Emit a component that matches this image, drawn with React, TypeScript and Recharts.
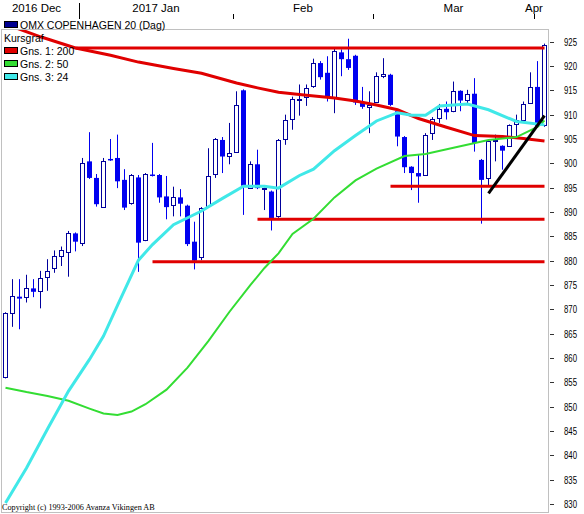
import React from 'react';
import { ComposedChart, Bar, Line, XAxis, YAxis, ReferenceLine } from 'recharts';

// ---- categories (trading days) ----
const decDays = [15, 16, 19, 20, 21, 22, 23, 27, 28, 29, 30];
const janDays = [2, 3, 4, 5, 6, 9, 10, 11, 12, 13, 16, 17, 18, 19, 20, 23, 24, 25, 26, 27, 30, 31];
const febDays = [1, 2, 3, 6, 7, 8, 9, 10, 13, 14, 15, 16, 17, 20, 21, 22, 23, 24, 27, 28];
const marDays = [1, 2, 3, 6, 7, 8, 9, 10, 13, 14, 15, 16, 17, 20, 21, 22, 23, 24, 27, 28, 29, 30, 31];
const aprDays = [3, 4];
const monthKeys = ['2016-12', '2017-01', '2017-02', '2017-03', '2017-04'];
const monthLabels = ['2016 Dec', '2017 Jan', 'Feb', 'Mar', 'Apr'];
const monthDays = [decDays, janDays, febDays, marDays, aprDays];

// ---- OHLC ----
const openV = [
  856.1, 869.3, 872.6, 872.5, 874.3, 873.8, 876.6, 878.4, 881.0, 881.7, 885.6,
  883.7, 900.4, 897.0, 891.1, 900.9, 901.1, 896.6, 891.8, 897.1, 884.3, 897.7,
  897.6, 893.2, 891.5, 893.0, 891.3, 883.9, 880.8, 891.3, 897.8, 904.8, 901.6,
  902.4, 915.0, 895.0, 899.8, 894.7, 894.2, 889.1, 905.0, 909.1, 913.0, 913.7,
  915.8, 920.6, 918.6, 913.7, 922.8, 921.4, 922.1, 912.4, 911.5,
  912.7, 918.0, 918.2, 910.7, 905.4, 899.3, 898.0, 897.6, 906.2, 909.3, 911.2,
  910.7, 914.9, 913.1, 914.3, 900.7, 897.0, 904.5, 903.6, 903.6, 908.0, 909.0,
  912.4, 915.7, 907.9,
];
const highV = [
  869.4, 876.2, 876.2, 877.1, 876.2, 877.9, 880.3, 882.1, 882.9, 886.1, 885.8,
  901.1, 906.4, 897.8, 901.1, 905.0, 905.9, 898.8, 897.8, 897.6, 898.0, 904.2,
  897.8, 897.4, 895.2, 894.7, 891.5, 888.0, 891.0, 903.1, 905.2, 905.4, 908.3,
  914.8, 915.2, 900.4, 902.8, 895.0, 894.4, 905.0, 910.0, 913.7, 916.2, 916.2,
  921.5, 921.0, 922.0, 923.7, 923.4, 925.6, 922.3, 915.7, 914.8,
  918.7, 921.6, 918.4, 910.9, 905.6, 899.4, 901.7, 906.2, 909.5, 912.2, 912.7,
  916.8, 915.0, 915.1, 917.5, 900.9, 904.6, 905.9, 903.7, 908.0, 910.0, 912.7,
  918.7, 921.0, 924.6,
];
const lowV = [
  855.8, 866.4, 865.9, 871.4, 872.5, 870.2, 873.8, 877.5, 878.9, 876.7, 881.9,
  883.0, 896.8, 891.1, 891.1, 900.5, 894.9, 890.4, 891.5, 877.7, 884.0, 897.3,
  891.9, 888.5, 889.1, 889.1, 883.0, 878.2, 880.1, 891.1, 897.0, 898.0, 899.8,
  902.2, 889.4, 894.8, 894.7, 890.4, 886.2, 888.8, 903.8, 906.9, 909.8, 911.8,
  915.5, 917.2, 912.7, 910.3, 917.9, 919.2, 912.0, 911.2, 906.2,
  912.5, 917.5, 911.8, 903.5, 898.0, 894.5, 891.9, 897.4, 904.8, 908.3, 909.0,
  910.5, 910.7, 912.4, 902.4, 887.6, 895.2, 900.4, 898.7, 903.4, 905.0, 908.8,
  912.2, 907.5, 907.5,
];
const closeV = [
  869.2, 872.7, 872.2, 874.3, 873.6, 876.4, 877.9, 881.0, 882.1, 885.6, 883.9,
  900.0, 897.0, 891.6, 900.5, 900.6, 896.3, 890.9, 897.5, 883.7, 897.8, 897.5,
  893.0, 891.0, 893.0, 891.7, 883.4, 880.0, 890.9, 897.3, 905.0, 901.4, 902.1,
  912.0, 895.4, 899.8, 894.9, 894.9, 888.7, 904.8, 909.0, 913.2, 913.2, 915.5,
  920.6, 917.7, 913.7, 923.0, 921.4, 919.6, 912.5, 911.6, 912.0,
  918.0, 918.3, 912.0, 905.5, 899.2, 898.0, 897.3, 905.9, 909.1, 911.2, 910.5,
  914.9, 912.9, 914.2, 904.2, 896.6, 904.5, 904.8, 902.6, 907.8, 909.0, 912.2,
  915.7, 907.7, 924.4,
];

// ---- moving averages read at chosen days: [day index, value] ----
const ma200Pts: [number, number][] = [
  [0, 928.6], [5, 926.0], [10, 923.7], [15, 922.2], [19, 920.8], [24, 919.5], [28, 918.5],
  [33, 916.5], [36, 915.5], [39, 914.6], [43, 914.0], [47, 913.4], [50, 912.8], [53, 912.0],
  [56, 911.0], [59, 909.2], [63, 907.4], [67, 905.7], [71, 905.5], [74, 905.1], [77, 904.6],
];
const ma50Pts: [number, number][] = [
  [0, 853.9], [3, 853.0], [6, 852.2], [9, 851.2], [12, 849.6], [14, 848.6], [16, 848.3],
  [18, 849.0], [20, 850.5], [23, 853.5], [26, 858.0], [29, 863.5], [32, 869.5], [35, 875.0],
  [37, 878.5], [39, 881.5], [41, 885.5], [44, 888.6], [47, 893.0], [50, 896.5], [53, 898.9],
  [57, 901.5], [60, 901.9], [64, 903.2], [69, 904.8], [73, 905.4], [76, 907.5], [77, 908.8],
];
const ma24Pts: [number, number][] = [
  [0, 830.2], [3, 837.4], [6, 845.4], [9, 853.2], [12, 859.7], [14, 864.5], [16, 870.8],
  [19, 880.1], [21, 883.3], [24, 887.4], [28, 890.2], [31, 892.8], [34, 895.3], [37, 895.3],
  [39, 894.9], [42, 897.5], [44, 898.8], [47, 902.6], [50, 905.7], [53, 908.7], [56, 910.4],
  [58, 909.9], [60, 909.9], [62, 911.8], [66, 912.2], [69, 911.0], [73, 908.6], [77, 907.9],
];
const trendPts: [number, number][] = [[69, 893.8], [77, 909.8]];

// horizontal support / resistance lines
const levelValues = [923.7, 895.3, 888.5, 879.8];
const levelStart = [10, 55, 36, 21];
const levelEnd = [77, 77, 77, 77];

const yTicks = [830, 835, 840, 845, 850, 855, 860, 865, 870, 875, 880, 885, 890, 895, 900, 905, 910, 915, 920, 925];

// ---- build table ----
const categories: string[] = [];
const monthOfDay: number[] = [];
monthDays.forEach((days, m) => {
  days.forEach((d) => {
    categories.push(`${monthKeys[m]}-${String(d).padStart(2, '0')}`);
    monthOfDay.push(m);
  });
});
const monthStarts = monthKeys.map((k, m) => categories[monthOfDay.indexOf(m)]);

const lookup = (pts: [number, number][], i: number) => {
  const p = pts.find((q) => q[0] === i);
  return p ? p[1] : null;
};

const data = categories.map((date, i) => ({
  date,
  open: openV[i],
  high: highV[i],
  low: lowV[i],
  close: closeV[i],
  range: [lowV[i], highV[i]],
  ma200: lookup(ma200Pts, i),
  ma50: lookup(ma50Pts, i),
  ma24: lookup(ma24Pts, i),
  trend: lookup(trendPts, i),
}));

const UP_STROKE = '#00009c';
const DOWN_FILL = '#0000f0';

const Candle = (props: any) => {
  const { x, y, width, height, payload } = props;
  if (x == null || y == null || !payload) return null;
  const { open, close, high, low } = payload;
  const top = Math.min(y, y + height);
  const h = Math.abs(height);
  const span = high - low;
  const k = span > 0 ? h / span : 0;
  const py = (v: number) => top + (high - v) * k;
  const cx = Math.round(x + width / 2 - 0.5) + 0.5;
  const up = close >= open;
  const bTop = py(Math.max(open, close));
  const bBot = py(Math.min(open, close));
  if (up) {
    const t = Math.round(bTop) + 0.5;
    const b = Math.max(Math.round(bBot) + 0.5, t + 1);
    return (
      <g>
        <line x1={cx} x2={cx} y1={top} y2={top + h} stroke={UP_STROKE} strokeWidth={1} />
        <rect x={cx - 2} y={t} width={4} height={b - t} fill="#ffffff" stroke={UP_STROKE} strokeWidth={1} />
      </g>
    );
  }
  const bh = Math.max(bBot - bTop, 1.5);
  return (
    <g>
      <line x1={cx} x2={cx} y1={top} y2={top + h} stroke={DOWN_FILL} strokeWidth={1} />
      <rect x={cx - 2.5} y={bTop} width={5} height={bh} fill={DOWN_FILL} />
    </g>
  );
};

const MonthTick = (props: any) => {
  const { x, payload } = props;
  const m = monthStarts.indexOf(payload.value);
  if (m < 0) return null;
  const half = payload.offset && payload.offset > 0 ? payload.offset : 3.5;
  const boundary = x - half;
  const len = monthDays[m].length;
  let lx = boundary + len * half;
  if (m === 0) lx -= 4;
  if (m === monthLabels.length - 1) lx = boundary;
  const bx = Math.round(boundary) + 0.5;
  return (
    <g>
      {m > 0 && (
        <line x1={bx} x2={bx} y1={m === 1 ? 3 : 14} y2={19} stroke="#000000" strokeWidth={1} />
      )}
      <text x={lx} y={12} textAnchor="middle" fontSize={11.5} fontFamily="'Liberation Sans', Arial, sans-serif" fill="#000000">
        {monthLabels[m]}
      </text>
    </g>
  );
};

const PriceTick = (props: any) => {
  const { x, y, payload } = props;
  const yy = Math.round(y) + 0.5;
  return (
    <g>
      <line x1={x + 2} x2={x + 6} y1={yy} y2={yy} stroke="#333333" strokeWidth={1} />
      <text x={x + 16} y={y + 4} fontSize={11} fontFamily="'Liberation Sans', Arial, sans-serif" fill="#000000" textLength={13} lengthAdjust="spacingAndGlyphs">
        {payload.value}
      </text>
    </g>
  );
};

const legendRows = [
  { label: 'OMX COPENHAGEN 20 (Dag)', color: '#000090' },
  { label: 'Kursgraf', color: null },
  { label: 'Gns. 1: 200', color: '#e00000' },
  { label: 'Gns. 2: 50', color: '#33dd33' },
  { label: 'Gns. 3: 24', color: '#40e8e8' },
];

export default function App() {
  return (
    <div style={{ position: 'absolute', left: 0, top: 0, width: 584, height: 514, background: '#ffffff' }}>
      <ComposedChart width={584} height={514} data={data} margin={{ top: 0, right: 0, bottom: 1.5, left: 2 }} barSize={5}>
        <XAxis
          dataKey="date"
          orientation="top"
          height={29}
          axisLine={false}
          tickLine={false}
          ticks={monthStarts}
          interval={0}
          tickSize={0}
          tickMargin={0}
          tick={<MonthTick />}
        />
        <YAxis
          orientation="right"
          width={36}
          domain={[828.25, 927.6]}
          allowDataOverflow
          ticks={yTicks}
          interval={0}
          axisLine={false}
          tickLine={false}
          tickSize={0}
          tickMargin={0}
          tick={<PriceTick />}
        />
        <Bar dataKey="range" shape={<Candle />} isAnimationActive={false} />
        {levelValues.map((v, j) => (
          <ReferenceLine
            key={j}
            segment={[
              { x: categories[levelStart[j]], y: v },
              { x: categories[levelEnd[j]], y: v },
            ]}
            stroke="#e00000"
            strokeWidth={3}
          />
        ))}
        <Line dataKey="ma200" stroke="#e00000" strokeWidth={3} dot={false} activeDot={false} connectNulls isAnimationActive={false} />
        <Line dataKey="ma50" stroke="#33dd33" strokeWidth={2} dot={false} activeDot={false} connectNulls isAnimationActive={false} />
        <Line dataKey="ma24" stroke="#40e8e8" strokeWidth={3} dot={false} activeDot={false} connectNulls isAnimationActive={false} />
        <Line dataKey="trend" stroke="#000000" strokeWidth={3} dot={false} activeDot={false} connectNulls isAnimationActive={false} />
      </ComposedChart>
      <div style={{ position: 'absolute', left: 1, top: 29, width: 548, height: 484, boxSizing: 'border-box', border: '1px solid #c0c0c0', pointerEvents: 'none' }} />
      <svg width={584} height={514} style={{ position: 'absolute', left: 0, top: 0, pointerEvents: 'none' }}>
        {legendRows.map((r, j) => {
          const base = 29 + j * 13;
          return (
            <g key={j}>
              {r.color && <rect x={4.5} y={base - 7.5} width={13} height={6} fill={r.color} stroke="#000000" strokeWidth={1} />}
              <text x={r.color ? 20 : 4} y={base} fontSize={10.5} fontFamily="'Liberation Sans', Arial, sans-serif" fill="#000000">
                {r.label}
              </text>
            </g>
          );
        })}
        <text x={2} y={510} fontSize={8.2} fontFamily="'Liberation Serif', 'Times New Roman', serif" fill="#000000">
          Copyright (c) 1993-2006 Avanza Vikingen AB
        </text>
      </svg>
    </div>
  );
}
